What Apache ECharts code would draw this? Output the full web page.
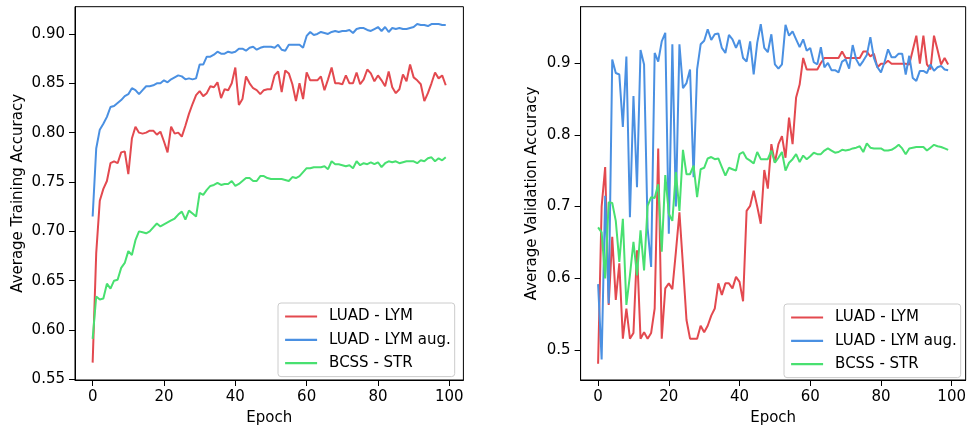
<!DOCTYPE html>
<html>
<head>
<meta charset="utf-8">
<script src="https://cdn.jsdelivr.net/npm/echarts@6/dist/echarts.min.js"></script>
<style>html,body{margin:0;padding:0;background:#fff;}#c{width:969px;height:431px;}</style>
</head>
<body>
<div id="c"></div>
<script>
const epochs = [0,1,2,3,4,5,6,7,8,9,10,11,12,13,14,15,16,17,18,19,20,21,22,23,24,25,26,27,28,29,30,31,32,33,34,35,36,37,38,39,40,41,42,43,44,45,46,47,48,49,50,51,52,53,54,55,56,57,58,59,60,61,62,63,64,65,66,67,68,69,70,71,72,73,74,75,76,77,78,79,80,81,82,83,84,85,86,87,88,89,90,91,92,93,94,95,96,97,98,99];
const seriesNames = ['LUAD - LYM', 'LUAD - LYM aug.', 'BCSS - STR'];
const xTicks = [0, 20, 40, 60, 80, 100];
const trainTicks = [0.55, 0.60, 0.65, 0.70, 0.75, 0.80, 0.85, 0.90];
const valTicks = [0.5, 0.6, 0.7, 0.8, 0.9];

const trainLuad = [0.567,0.678,0.731,0.743,0.751,0.769,0.771,0.769,0.780,0.781,0.758,0.794,0.806,0.800,0.799,0.800,0.802,0.802,0.798,0.801,0.791,0.780,0.806,0.799,0.800,0.796,0.807,0.819,0.829,0.838,0.842,0.837,0.840,0.847,0.846,0.851,0.835,0.844,0.843,0.850,0.866,0.828,0.834,0.857,0.850,0.845,0.843,0.839,0.843,0.844,
0.844,0.858,0.862,0.841,0.863,0.860,0.849,0.832,0.850,0.834,0.861,0.853,0.853,0.853,0.857,0.843,0.854,0.866,0.850,0.850,0.849,0.858,0.850,0.850,0.861,0.849,0.854,0.864,0.860,0.852,0.858,0.853,0.847,0.862,0.846,0.840,0.844,0.859,0.852,0.869,0.856,0.853,0.849,0.832,0.840,0.850,0.861,0.855,0.858,0.848];
const trainAug = [0.715,0.784,0.803,0.809,0.816,0.826,0.827,0.830,0.833,0.837,0.839,0.845,0.843,0.839,0.843,0.847,0.847,0.848,0.850,0.850,0.853,0.851,0.854,0.856,0.858,0.857,0.854,0.855,0.854,0.855,0.869,0.869,0.877,0.877,0.879,0.882,0.880,0.880,0.882,0.881,0.882,0.885,0.885,0.883,0.886,0.887,0.884,0.886,0.887,0.887,
0.887,0.886,0.889,0.884,0.883,0.889,0.889,0.889,0.889,0.886,0.898,0.902,0.899,0.900,0.902,0.901,0.900,0.902,0.903,0.902,0.903,0.903,0.904,0.901,0.905,0.906,0.906,0.904,0.903,0.905,0.907,0.903,0.907,0.902,0.906,0.905,0.906,0.905,0.905,0.906,0.907,0.910,0.909,0.909,0.908,0.910,0.910,0.910,0.909,0.909];
const trainBcss = [0.591,0.634,0.631,0.632,0.647,0.642,0.650,0.651,0.663,0.668,0.680,0.676,0.691,0.700,0.699,0.698,0.700,0.704,0.708,0.705,0.707,0.709,0.711,0.713,0.717,0.720,0.712,0.721,0.718,0.715,0.739,0.737,0.742,0.746,0.747,0.749,0.747,0.748,0.748,0.751,0.746,0.748,0.751,0.754,0.754,0.751,0.751,0.756,0.756,0.754,
0.753,0.753,0.753,0.753,0.752,0.751,0.755,0.754,0.756,0.760,0.764,0.764,0.765,0.765,0.765,0.766,0.763,0.771,0.768,0.768,0.767,0.766,0.767,0.764,0.771,0.767,0.769,0.768,0.770,0.768,0.770,0.765,0.769,0.771,0.770,0.771,0.769,0.770,0.771,0.771,0.771,0.769,0.772,0.771,0.774,0.775,0.771,0.774,0.772,0.775];

const valLuad = [0.481,0.700,0.755,0.563,0.658,0.570,0.621,0.516,0.558,0.516,0.524,0.639,0.516,0.525,0.516,0.524,0.558,0.781,0.516,0.586,0.593,0.585,0.637,0.692,0.618,0.542,0.516,0.516,0.516,0.534,0.525,0.534,0.548,0.558,0.593,0.577,0.593,0.593,0.586,0.602,0.595,0.568,0.694,0.701,0.722,0.700,0.676,0.751,0.725,0.787,
0.761,0.787,0.798,0.768,0.824,0.787,0.852,0.870,0.907,0.891,0.891,0.891,0.891,0.900,0.907,0.907,0.907,0.907,0.907,0.916,0.907,0.907,0.907,0.907,0.907,0.916,0.916,0.909,0.913,0.894,0.899,0.899,0.903,0.899,0.899,0.899,0.899,0.899,0.898,0.918,0.938,0.899,0.938,0.898,0.891,0.938,0.918,0.898,0.907,0.898];
const valAug = [0.592,0.487,0.715,0.565,0.905,0.886,0.884,0.811,0.909,0.685,0.854,0.727,0.918,0.898,0.670,0.616,0.914,0.902,0.930,0.942,0.662,0.926,0.700,0.926,0.865,0.872,0.891,0.741,0.891,0.926,0.931,0.947,0.932,0.940,0.941,0.921,0.914,0.939,0.933,0.921,0.932,0.907,0.902,0.930,0.884,0.928,0.954,0.921,0.915,0.940,
0.898,0.892,0.898,0.953,0.938,0.944,0.933,0.922,0.933,0.917,0.921,0.901,0.898,0.922,0.894,0.900,0.890,0.890,0.887,0.902,0.905,0.892,0.925,0.905,0.896,0.903,0.911,0.936,0.907,0.894,0.887,0.901,0.919,0.908,0.908,0.913,0.913,0.884,0.910,0.879,0.875,0.889,0.889,0.886,0.898,0.889,0.894,0.896,0.891,0.890];
const valBcss = [0.671,0.664,0.600,0.706,0.705,0.680,0.623,0.683,0.563,0.604,0.651,0.604,0.667,0.611,0.701,0.713,0.712,0.731,0.637,0.744,0.690,0.680,0.748,0.694,0.779,0.745,0.745,0.757,0.713,0.752,0.754,0.767,0.769,0.766,0.767,0.755,0.743,0.754,0.752,0.750,0.773,0.776,0.767,0.764,0.760,0.776,0.766,0.766,0.766,0.778,
0.761,0.768,0.776,0.750,0.761,0.766,0.773,0.762,0.771,0.766,0.770,0.775,0.773,0.773,0.778,0.781,0.778,0.775,0.776,0.779,0.778,0.779,0.781,0.782,0.784,0.776,0.788,0.782,0.781,0.781,0.781,0.778,0.778,0.779,0.782,0.786,0.781,0.773,0.781,0.782,0.783,0.783,0.783,0.778,0.782,0.786,0.784,0.783,0.781,0.779];

const colors = ['#e3494f', '#4a90e2', '#48e070'];
const FONT = 'DejaVu Sans';

function pairs(ys) { return epochs.map((e, i) => [e, ys[i]]); }

function xAxis(gridIndex) {
  return {
    type: 'value', gridIndex, min: -4.95, max: 103.95,
    name: 'Epoch', nameLocation: 'middle', nameGap: 31,
    nameTextStyle: { fontFamily: FONT, fontSize: 15, color: '#000' },
    axisLine: { show: true, onZero: false, lineStyle: { color: '#000', width: 1 } },
    axisTick: { show: true, length: 6, customValues: xTicks, lineStyle: { color: '#000' } },
    axisLabel: { customValues: xTicks, margin: 10, fontFamily: FONT, fontSize: 15, color: '#000' },
    splitLine: { show: false }
  };
}
function yAxis(gridIndex, min, max, ticks, name, gap, fmt) {
  return {
    type: 'value', gridIndex, min, max,
    name, nameLocation: 'middle', nameGap: gap,
    nameTextStyle: { fontFamily: FONT, fontSize: 15, color: '#000' },
    axisLine: { show: true, onZero: false, lineStyle: { color: '#000', width: 1 } },
    axisTick: { show: true, length: 6, customValues: ticks, lineStyle: { color: '#000' } },
    axisLabel: { customValues: ticks, margin: 10, fontFamily: FONT, fontSize: 15, color: '#000',
      formatter: v => v.toFixed(fmt) },
    splitLine: { show: false }
  };
}
function lineSeries(name, data, xi, color) {
  return {
    type: 'line', name, data: pairs(data), xAxisIndex: xi, yAxisIndex: xi,
    symbol: 'none', smooth: false, lineStyle: { color, width: 2 }, itemStyle: { color },
    animation: false, z: 2
  };
}
function legend(left, top) {
  return {
    orient: 'vertical', left, top, data: seriesNames,
    itemWidth: 32, itemHeight: 14, itemGap: 8.3,
    padding: [6, 4, 6, 6],
    backgroundColor: '#fff', borderColor: '#cccccc', borderWidth: 1, borderRadius: 3,
    itemStyle: { opacity: 0 },
    lineStyle: { width: 2.2 },
    textStyle: { fontFamily: FONT, fontSize: 15, color: '#000', padding: [0, 0, 0, 7] },
    selectedMode: false
  };
}

const chart = echarts.init(document.getElementById('c'), null, { renderer: 'canvas' });
chart.setOption({
  animation: false,
  backgroundColor: '#fff',
  grid: [
    { left: 75, top: 6.7, width: 388.4, height: 376.6, show: true, borderColor: '#000', borderWidth: 1, containLabel: false },
    { left: 580.6, top: 6.7, width: 388, height: 376, show: true, borderColor: '#000', borderWidth: 1, containLabel: false }
  ],
  xAxis: [xAxis(0), xAxis(1)],
  yAxis: [
    yAxis(0, 0.5494, 0.9276, trainTicks, 'Average Training Accuracy', 49, 2),
    yAxis(1, 0.4584, 0.9784, valTicks, 'Average Validation Accuracy', 41, 1)
  ],
  legend: [legend(278, 303), legend(784, 304)],
  series: [
    lineSeries(seriesNames[0], trainLuad, 0, colors[0]),
    lineSeries(seriesNames[1], trainAug, 0, colors[1]),
    lineSeries(seriesNames[2], trainBcss, 0, colors[2]),
    lineSeries(seriesNames[0], valLuad, 1, colors[0]),
    lineSeries(seriesNames[1], valAug, 1, colors[1]),
    lineSeries(seriesNames[2], valBcss, 1, colors[2])
  ]
});
</script>
</body>
</html>
